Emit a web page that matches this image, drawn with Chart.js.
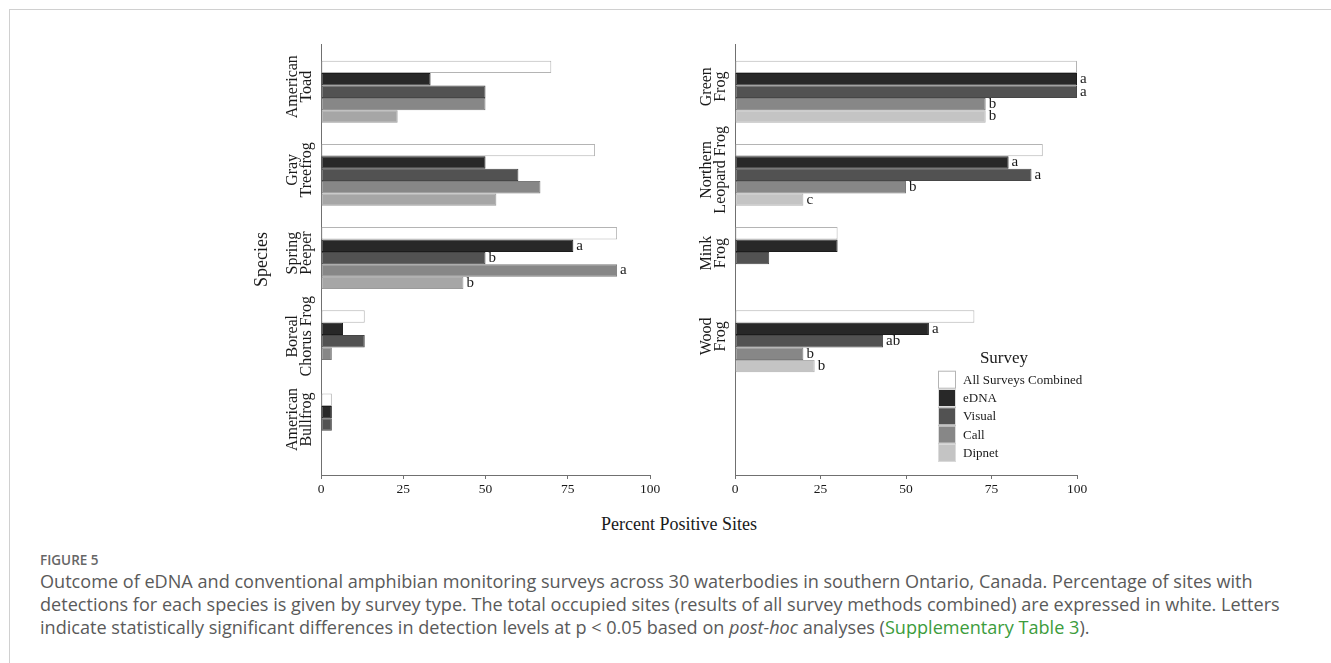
<!DOCTYPE html>
<html><head><meta charset="utf-8">
<script src="https://cdn.jsdelivr.net/npm/chart.js@4.4.1/dist/chart.umd.min.js"></script>
<style>
html,body{margin:0;padding:0;background:#fff;width:1331px;height:663px;overflow:hidden;}
#frame{position:absolute;left:9px;top:9px;width:1330px;height:660px;border-left:1px solid #d0d0d0;border-top:1px solid #d0d0d0;}
canvas{position:absolute;}
#c1{left:230px;top:30px;}
#c2{left:680px;top:30px;}
#xtitle{position:absolute;left:579px;width:200px;top:514px;height:24px;line-height:24px;text-align:center;font:18px 'Liberation Serif',serif;color:#1a1a1a;white-space:nowrap;}
.cap{position:absolute;left:40px;font-family:'Open Sans',sans-serif;color:#5a5a5a;white-space:nowrap;height:23px;line-height:23px;}
#fig{font-weight:600;color:#666;font-size:13.5px;}
.lnk{color:#3c9c3c;}
</style></head>
<body>
<div id="frame"></div>
<canvas id="c1" width="440" height="480" style="width:440px;height:480px"></canvas>
<canvas id="c2" width="420" height="480" style="width:420px;height:480px"></canvas>
<div id="xtitle">Percent Positive Sites</div>
<div class="cap" id="fig" style="top:549px">FIGURE 5</div>
<div class="cap" id="l1" style="top:570px">Outcome of eDNA and conventional amphibian monitoring surveys across 30 waterbodies in southern Ontario, Canada. Percentage of sites with</div>
<div class="cap" id="l2" style="top:593px">detections for each species is given by survey type. The total occupied sites (results of all survey methods combined) are expressed in white. Letters</div>
<div class="cap" id="l3" style="top:616px">indicate statistically significant differences in detection levels at p &lt; 0.05 based on <i>post-hoc</i> analyses (<span class="lnk">Supplementary Table 3</span>).</div>
<script>
// ---------- data ----------
const surveys = ['All Surveys Combined', 'eDNA', 'Visual', 'Call', 'Dipnet'];
const xTicks = [0, 25, 50, 75, 100];

const leftSpecies = [['American', 'Toad'], ['Gray', 'Treefrog'], ['Spring', 'Peeper'], ['Boreal', 'Chorus Frog'], ['American', 'Bullfrog']];
const leftAll    = [70, 83.3, 90, 13.3, 3.3];
const leftEDNA   = [33.3, 50, 76.7, 6.7, 3.3];
const leftVisual = [50, 60, 50, 13.3, 3.3];
const leftCall   = [50, 66.7, 90, 3.3, 0];
const leftDipnet = [23.3, 53.3, 43.3, 0, 0];
const leftLetEDNA   = ['', '', 'a', '', ''];
const leftLetVisual = ['', '', 'b', '', ''];
const leftLetCall   = ['', '', 'a', '', ''];
const leftLetDipnet = ['', '', 'b', '', ''];

const rightSpecies = [['Green', 'Frog'], ['Northern', 'Leopard Frog'], ['Mink', 'Frog'], ['Wood', 'Frog']];
const rightAll    = [100, 90, 30, 70];
const rightEDNA   = [100, 80, 30, 56.7];
const rightVisual = [100, 86.7, 10, 43.3];
const rightCall   = [73.3, 50, 0, 20];
const rightDipnet = [73.3, 20, 0, 23.3];
const rightLetEDNA   = ['a', 'a', '', 'a'];
const rightLetVisual = ['a', 'a', '', 'ab'];
const rightLetCall   = ['b', 'b', '', 'b'];
const rightLetDipnet = ['b', 'c', '', 'b'];

// ---------- styles ----------
const SERIF = "'Liberation Serif', 'Times New Roman', serif";
const fills = ['#ffffff', '#282828', '#525252', '#878787'];
const borders = ['#b4b4b4', '#1c1c1c', '#464646', '#7a7a7a'];

function toPts(arr) { return arr.map((v, i) => ({ x: v, y: i })); }

function makePanel(canvas, species, series, letters, dipFill, dipBorder, yAxisWidth, padRight, withLegend, withSpeciesTitle) {
  const cols = fills.concat([dipFill]);
  const bcols = borders.concat([dipBorder]);
  const datasets = series.map((s, k) => ({
    label: surveys[k],
    data: toPts(s),
    backgroundColor: cols[k],
    borderColor: bcols[k],
    borderWidth: 1,
    borderSkipped: false,
    categoryPercentage: 0.745,
    barPercentage: 1.0
  }));

  const labelPlugin = {
    id: 'labels',
    afterDraw(chart) {
      const ctx = chart.ctx;
      const ys = chart.scales.y, ca = chart.chartArea;
      ctx.save();
      ctx.fillStyle = '#1a1a1a';
      // species labels (rotated)
      ctx.font = '16px ' + SERIF;
      ctx.textAlign = 'center';
      ctx.textBaseline = 'middle';
      species.forEach((lines, i) => {
        const yc = ys.getPixelForValue(i) - 5;
        lines.forEach((ln, j) => {
          ctx.save();
          ctx.translate(ca.left - 28 + j * 13.5, yc);
          ctx.rotate(-Math.PI / 2);
          ctx.fillText(ln, 0, 0);
          ctx.restore();
        });
      });
      if (withSpeciesTitle) {
        ctx.save();
        ctx.font = '18px ' + SERIF;
        ctx.translate(ca.left - 59, (ca.top + ca.bottom) / 2);
        ctx.rotate(-Math.PI / 2);
        ctx.fillText('Species', 0, 0);
        ctx.restore();
      }
      // significance letters
      ctx.font = '15px ' + SERIF;
      ctx.textAlign = 'left';
      letters.forEach((arr, li) => {
        const meta = chart.getDatasetMeta(li + 1);
        arr.forEach((t, i) => {
          if (!t) return;
          const el = meta.data[i];
          ctx.fillText(t, el.x + 3, el.y);
        });
      });
      // legend
      if (withLegend) {
        const bx = ca.left + 203, by = ca.top + 326.7, bs = 18, pitch = 18.3;
        ctx.font = '17px ' + SERIF;
        ctx.textAlign = 'center';
        ctx.fillText('Survey', ca.left + 269, ca.top + 315);
        ctx.font = '13px ' + SERIF;
        ctx.textAlign = 'left';
        chart.data.datasets.forEach((ds, k) => {
          const y = by + k * pitch;
          ctx.fillStyle = ds.backgroundColor;
          ctx.fillRect(bx, y, bs, bs);
          ctx.strokeStyle = k === 0 ? '#b4b4b4' : '#dcdcdc';
          ctx.lineWidth = 1;
          ctx.strokeRect(bx + 0.5, y + 0.5, bs - 1, bs - 1);
          ctx.fillStyle = '#1a1a1a';
          ctx.fillText(ds.label, bx + 25, y + bs / 2 + 0.5);
        });
      }
      ctx.restore();
    }
  };

  return new Chart(canvas, {
    type: 'bar',
    data: { datasets },
    options: {
      indexAxis: 'y',
      responsive: false,
      animation: false,
      devicePixelRatio: 1,
      layout: { padding: { top: 14, right: padRight, left: 0, bottom: 0 } },
      plugins: { legend: { display: false }, tooltip: { enabled: false } },
      scales: {
        y: {
          type: 'linear',
          reverse: true,
          offset: false,
          min: -0.573,
          max: 4.607,
          ticks: { display: false, stepSize: 1, includeBounds: false },
          grid: { display: false, offset: false },
          border: { display: true, color: '#707070', width: 1 },
          afterFit(s) { s.width = yAxisWidth; }
        },
        x: {
          type: 'linear',
          min: 0,
          max: 100,
          afterBuildTicks(s) { s.ticks = xTicks.map(v => ({ value: v })); },
          ticks: { font: { family: SERIF, size: 13.5 }, color: '#1a1a1a', padding: 2 },
          grid: { display: true, drawOnChartArea: false, drawTicks: true, tickLength: 4, color: '#707070' },
          border: { display: true, color: '#707070', width: 1 },
          afterFit(s) { s.height = 35; }
        }
      }
    },
    plugins: [labelPlugin]
  });
}

makePanel(document.getElementById('c1'), leftSpecies,
  [leftAll, leftEDNA, leftVisual, leftCall, leftDipnet],
  [leftLetEDNA, leftLetVisual, leftLetCall, leftLetDipnet],
  '#a6a6a6', '#9a9a9a', 91, 20, false, true);

makePanel(document.getElementById('c2'), rightSpecies,
  [rightAll, rightEDNA, rightVisual, rightCall, rightDipnet],
  [rightLetEDNA, rightLetVisual, rightLetCall, rightLetDipnet],
  '#c4c4c4', '#b0b0b0', 55, 23, true, false);

// caption sizing: line 1 spans from x=40 to about x=1253
(function () {
  const c = document.createElement('canvas').getContext('2d');
  c.font = "100px 'Open Sans'";
  const w = c.measureText(document.getElementById('l1').textContent).width;
  const size = 100 * 1213 / w;
  ['l1', 'l2', 'l3'].forEach(id => document.getElementById(id).style.fontSize = size.toFixed(2) + 'px');
})();
</script>
</body></html>
